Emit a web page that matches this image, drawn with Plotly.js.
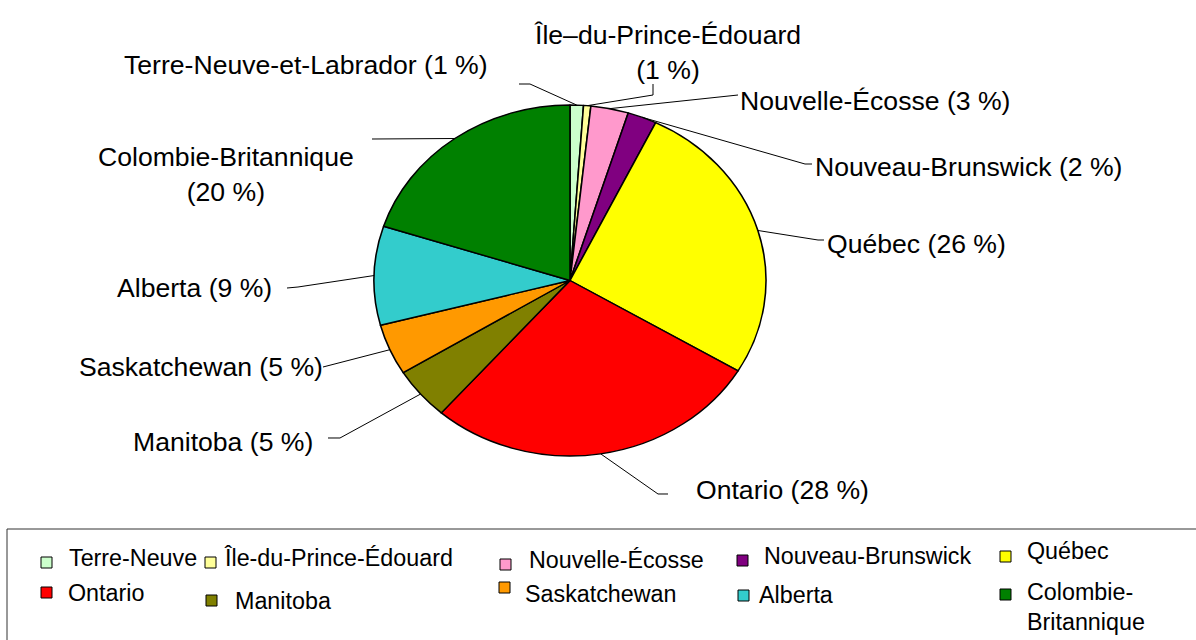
<!DOCTYPE html>
<html>
<head>
<meta charset="utf-8">
<script src="https://cdn.plot.ly/plotly-3.0.1.min.js"></script>
<style>html,body{margin:0;padding:0;background:#fff;}</style>
</head>
<body>
<div id="chart" style="width:1196px;height:640px;"></div>
<script>
// ---- data ----
const provinces = ["Terre-Neuve", "Île-du-Prince-Édouard", "Nouvelle-Écosse", "Nouveau-Brunswick", "Québec",
                   "Ontario", "Manitoba", "Saskatchewan", "Alberta", "Colombie-Britannique"];
const labelNames = ["Terre-Neuve-et-Labrador", "Île–du-Prince-Édouard", "Nouvelle-Écosse", "Nouveau-Brunswick", "Québec",
                    "Ontario", "Manitoba", "Saskatchewan", "Alberta", "Colombie-Britannique"];
const legendNames = ["Terre-Neuve", "Île-du-Prince-Édouard", "Nouvelle-Écosse", "Nouveau-Brunswick", "Québec",
                     "Ontario", "Manitoba", "Saskatchewan", "Alberta", "Colombie-<br>Britannique"];
const shares = [1.1, 0.6, 3.1, 2.4, 26.4, 27.8, 4.8, 4.7, 9.1, 20.0];
const colors = ["#ccffcc", "#ffff99", "#ff99cc", "#800080", "#ffff00",
                "#ff0000", "#808000", "#ff9900", "#33cccc", "#008000"];

// ---- layout geometry (pixels) ----
const W = 1196, H = 640;
const CX = 570, CY = 280.5, RY = 175.5, RX = 196;
const FONT = "Liberation Sans, Arial, sans-serif";
// label placement: [centerX, centerY, lineBreak]
const labelPos = [[306, 65, false], [667, 53, true], [875, 101, false], [968, 167, false], [916, 244, false],
                  [782, 490, false], [223, 442, false], [201, 367, false], [194, 288, false], [226, 174, true]];
// leader line bends after the slice tip
const leaderPts = [[[530, 84], [519, 84]], [[653, 95], [653, 84]], [[738, 95]], [[805, 164], [812, 164]], [[818, 240], [824, 240]],
                   [[658, 494], [668, 494]], [[340, 438], [328, 438]], [[323, 367]], [[298, 287], [287, 288]], [[372, 139]]];
// legend placement: [symbolLeft, symbolTop, textLeft, textCenterY]
const legendPos = [[41, 557, 67, 558], [205, 557, 222, 558], [500, 559, 527, 560], [737, 555, 762, 556], [1000, 551, 1025, 551],
                   [41, 587, 66, 593], [206, 595, 233, 601], [499, 582, 523, 594], [738, 590, 757, 595], [1000, 589, 1025, 607]];
const SYM = 11;

const px = x => x / W;
const py = y => 1 - y / H;

const total = shares.reduce((a, b) => a + b, 0);
let cum = 0;
const tips = shares.map(v => {
  const mid = (cum + v / 2) / total;
  cum += v;
  const a = mid * 2 * Math.PI;
  return [CX + RX * Math.sin(a), CY - RY * Math.cos(a)];
});

const shapes = [];
const annotations = [];

// legend frame
shapes.push({type: 'rect', xref: 'paper', yref: 'paper', layer: 'below',
  x0: px(7), x1: px(W + 10), y0: py(529), y1: py(H + 10),
  line: {color: '#333333', width: 1}, fillcolor: 'rgba(0,0,0,0)'});

// leader lines and labels
provinces.forEach((p, i) => {
  const pts = [tips[i]].concat(leaderPts[i]);
  const d = pts.map((q, k) => (k ? 'L' : 'M') + px(q[0]).toFixed(5) + ',' + py(q[1]).toFixed(5)).join(' ');
  shapes.push({type: 'path', xref: 'paper', yref: 'paper', path: d, line: {color: '#000', width: 1}});
  const pct = Math.round(shares[i] / total * 100) + ' %';
  const lp = labelPos[i];
  annotations.push({xref: 'paper', yref: 'paper', x: px(lp[0]), y: py(lp[1]),
    xanchor: 'center', yanchor: 'middle', showarrow: false, align: 'center',
    text: labelNames[i] + (lp[2] ? '<br>' : ' ') + '(' + pct + ')',
    font: {family: FONT, size: 26.6, color: '#000'}});
});

// legend entries
provinces.forEach((p, i) => {
  const lg = legendPos[i];
  shapes.push({type: 'rect', xref: 'paper', yref: 'paper',
    x0: px(lg[0]), x1: px(lg[0] + SYM), y0: py(lg[1]), y1: py(lg[1] + SYM),
    fillcolor: colors[i], line: {color: '#000', width: 1}});
  annotations.push({xref: 'paper', yref: 'paper', x: px(lg[2]), y: py(lg[3]),
    xanchor: 'left', yanchor: 'middle', showarrow: false, align: 'left',
    text: legendNames[i], font: {family: FONT, size: 23.3, color: '#000'}});
});

const trace = {
  type: 'pie',
  labels: provinces,
  values: shares,
  sort: false,
  direction: 'clockwise',
  rotation: 0,
  textinfo: 'none',
  textposition: 'none',
  hoverinfo: 'label+percent',
  showlegend: false,
  marker: {colors: colors, line: {color: '#000', width: 1.4}},
  domain: {x: [px(CX - RY - 10), px(CX + RY + 10)], y: [py(CY + RY), py(CY - RY)]}
};

const layout = {
  width: W, height: H,
  margin: {l: 0, r: 0, t: 0, b: 0},
  paper_bgcolor: '#fff',
  showlegend: false,
  font: {family: FONT},
  shapes: shapes,
  annotations: annotations
};

Plotly.newPlot('chart', [trace], layout, {displayModeBar: false, staticPlot: true}).then(gd => {
  const layer = gd.querySelector('.pielayer');
  const cd = gd.calcdata[0][0];
  const sx = RX / cd.r;
  if (layer) layer.setAttribute('transform',
    'translate(' + cd.cx + ',0) scale(' + sx + ',1) translate(' + (-cd.cx) + ',0)');
});
</script>
</body>
</html>
